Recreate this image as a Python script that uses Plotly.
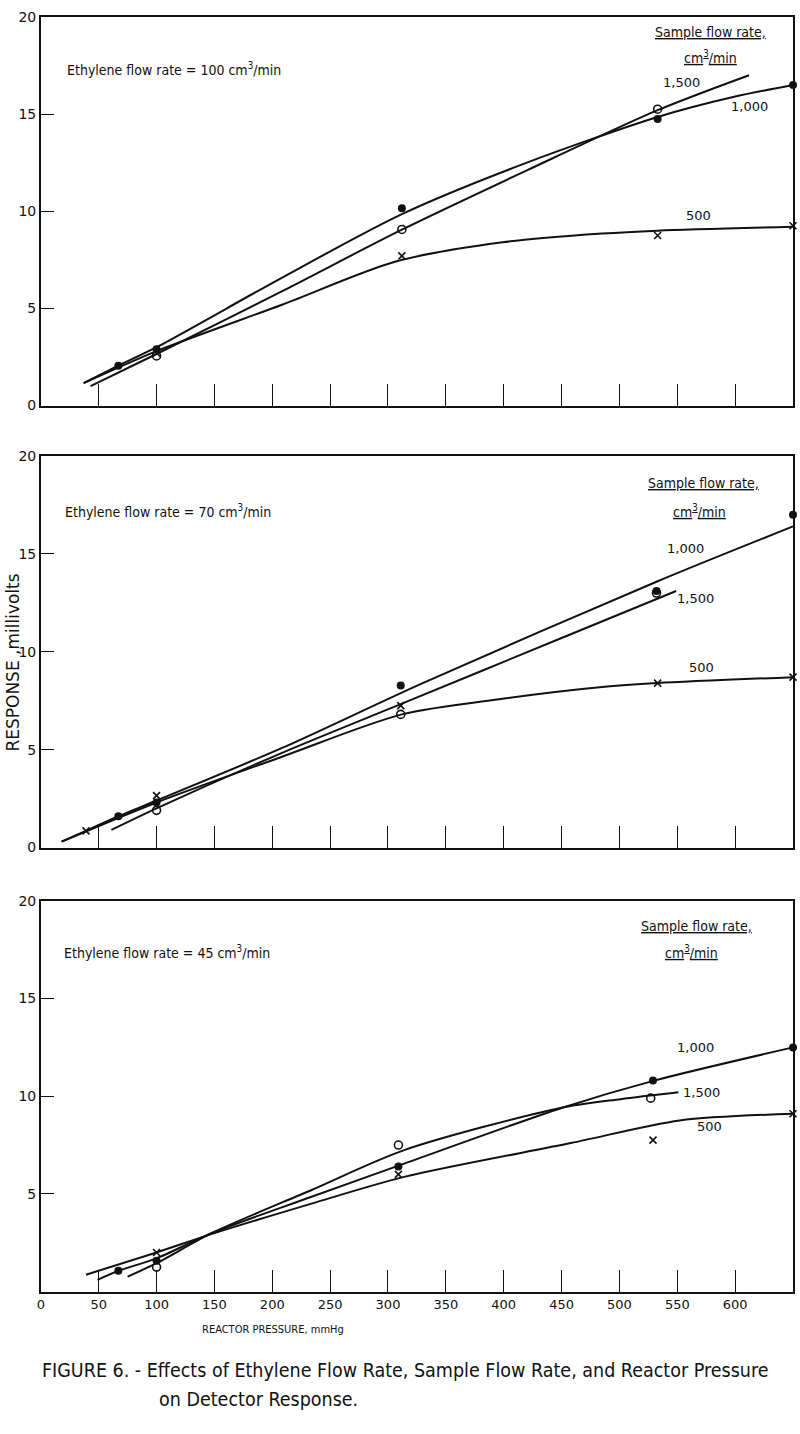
import plotly.graph_objects as go

# ---------------- data ----------------
# Panel A: ethylene flow rate = 100 cm3/min
a_pts_1000_x = [67, 100, 312, 533, 650]
a_pts_1000_y = [2.05, 2.9, 10.15, 14.75, 16.5]
a_pts_1500_x = [100, 312, 533]
a_pts_1500_y = [2.55, 9.06, 15.25]
a_pts_500_x = [100, 312, 533, 650]
a_pts_500_y = [2.7, 7.7, 8.75, 9.25]
a_fit_1000_x = [37, 67, 100, 209, 312, 420, 533, 600, 650]
a_fit_1000_y = [1.15, 2.05, 3.0, 6.6, 9.85, 12.5, 14.85, 15.9, 16.5]
a_fit_1500_x = [43, 100, 209, 312, 420, 533, 612]
a_fit_1500_y = [1.0, 2.65, 5.9, 9.05, 12.1, 15.2, 17.0]
a_fit_500_x = [37, 100, 209, 306, 399, 485, 533, 650]
a_fit_500_y = [1.15, 2.8, 5.2, 7.4, 8.4, 8.85, 9.0, 9.2]

# Panel B: ethylene flow rate = 70 cm3/min
b_pts_1000_x = [67, 100, 311, 532, 650]
b_pts_1000_y = [1.6, 2.3, 8.28, 13.1, 17.0]
b_pts_1500_x = [100, 311, 532]
b_pts_1500_y = [1.9, 6.8, 13.0]
b_pts_500_x = [39, 100, 311, 533, 650]
b_pts_500_y = [0.85, 2.65, 7.25, 8.4, 8.7]
b_fit_1000_x = [18, 39, 67, 100, 209, 330, 533, 650]
b_fit_1000_y = [0.3, 0.85, 1.6, 2.4, 5.1, 8.4, 13.6, 16.4]
b_fit_1500_x = [61, 100, 209, 312, 450, 549]
b_fit_1500_y = [0.9, 2.0, 4.85, 7.35, 10.7, 13.1]
b_fit_500_x = [18, 100, 209, 312, 399, 485, 533, 650]
b_fit_500_y = [0.3, 2.3, 4.65, 6.8, 7.6, 8.2, 8.4, 8.7]

# Panel C: ethylene flow rate = 45 cm3/min
c_pts_1000_x = [67, 100, 309, 529, 650]
c_pts_1000_y = [1.06, 1.57, 6.4, 10.8, 12.5]
c_pts_1500_x = [100, 309, 527]
c_pts_1500_y = [1.25, 7.5, 9.9]
c_pts_500_x = [100, 309, 529, 650]
c_pts_500_y = [2.0, 6.0, 7.75, 9.1]
c_fit_1000_x = [49, 67, 100, 148, 234, 314, 450, 530, 650]
c_fit_1000_y = [0.6, 1.06, 1.7, 3.0, 4.85, 6.55, 9.4, 10.8, 12.5]
c_fit_1500_x = [75, 100, 148, 234, 314, 449, 501, 551]
c_fit_1500_y = [0.76, 1.45, 3.0, 5.2, 7.24, 9.4, 9.85, 10.2]
c_fit_500_x = [39, 100, 148, 234, 314, 458, 552, 650]
c_fit_500_y = [0.86, 2.0, 2.95, 4.5, 5.87, 7.6, 8.76, 9.1]

ethylene_rates = ["100", "70", "45"]
x_tick_vals = [0, 50, 100, 150, 200, 250, 300, 350, 400, 450, 500, 550, 600, 650]
y_tick_vals = [0, 5, 10, 15, 20]

panels = [
    dict(pts={"1000": (a_pts_1000_x, a_pts_1000_y), "1500": (a_pts_1500_x, a_pts_1500_y), "500": (a_pts_500_x, a_pts_500_y)},
         fit={"1000": (a_fit_1000_x, a_fit_1000_y), "1500": (a_fit_1500_x, a_fit_1500_y), "500": (a_fit_500_x, a_fit_500_y)}),
    dict(pts={"1000": (b_pts_1000_x, b_pts_1000_y), "1500": (b_pts_1500_x, b_pts_1500_y), "500": (b_pts_500_x, b_pts_500_y)},
         fit={"1000": (b_fit_1000_x, b_fit_1000_y), "1500": (b_fit_1500_x, b_fit_1500_y), "500": (b_fit_500_x, b_fit_500_y)}),
    dict(pts={"1000": (c_pts_1000_x, c_pts_1000_y), "1500": (c_pts_1500_x, c_pts_1500_y), "500": (c_pts_500_x, c_pts_500_y)},
         fit={"1000": (c_fit_1000_x, c_fit_1000_y), "1500": (c_fit_1500_x, c_fit_1500_y), "500": (c_fit_500_x, c_fit_500_y)}),
]

# label placement (data coords per panel): (x, y)
label_pos = [
    {"eth": (21, 17.3), "sfr": (579, 19.2), "cm": (579, 17.95), "1,500": (554, 16.6), "1,000": (612, 15.4), "500": (568, 9.77)},
    {"eth": (19, 17.2), "sfr": (573, 18.6), "cm": (569, 17.2), "1,000": (557, 15.25), "1,500": (566, 12.7), "500": (571, 9.2)},
    {"eth": (18, 17.4), "sfr": (567, 18.7), "cm": (562, 17.4), "1,000": (566, 12.5), "1,500": (571, 10.2), "500": (578, 8.45)},
]

# ---------------- styling ----------------
INK = "#111111"
NARROW = "DejaVu Sans Condensed, Liberation Sans, sans-serif"
PLAIN = "DejaVu Sans, sans-serif"

marker_style = {
    "1000": dict(symbol="circle", size=8, color=INK, line=dict(width=0)),
    "1500": dict(symbol="circle-open", size=8, color=INK, line=dict(width=1.6, color=INK)),
    "500": dict(symbol="x-thin-open", size=7, color=INK, line=dict(width=1.6, color=INK)),
}

x_domain = [37 / 800, 793 / 800]
y_domains = [
    [1 - 402 / 1434, 1 - 9 / 1434],
    [1 - 849 / 1434, 1 - 453 / 1434],
    [1 - 1298 / 1434, 1 - 903 / 1434],
]

fig = go.Figure()
layout = dict(
    width=800, height=1434, autosize=False,
    margin=dict(l=0, r=0, t=0, b=0),
    paper_bgcolor="white", plot_bgcolor="white",
    showlegend=False,
    font=dict(family=PLAIN, color=INK),
)
annotations = []

for i, p in enumerate(panels):
    n = "" if i == 0 else str(i + 1)
    xa, ya = "x" + n, "y" + n
    for key in ["1000", "1500", "500"]:
        fx, fy = p["fit"][key]
        fig.add_trace(go.Scatter(x=fx, y=fy, mode="lines", xaxis=xa, yaxis=ya,
                                 line=dict(color=INK, width=2, shape="spline", smoothing=0.8),
                                 hoverinfo="skip"))
    for key in ["1000", "1500", "500"]:
        px_, py_ = p["pts"][key]
        fig.add_trace(go.Scatter(x=px_, y=py_, mode="markers", xaxis=xa, yaxis=ya,
                                 marker=marker_style[key], cliponaxis=False))
    last = i == 2
    layout["xaxis" + n] = dict(
        domain=x_domain, anchor=ya, range=[0, 650],
        tickvals=x_tick_vals, ticktext=[str(v) for v in x_tick_vals],
        showticklabels=last, ticks="inside", ticklen=22, tickwidth=1.2, tickcolor=INK,
        showline=True, linewidth=2, linecolor=INK, mirror=True,
        showgrid=False, zeroline=False,
        tickfont=dict(family=PLAIN, size=13, color=INK),
    )
    yv = y_tick_vals if not last else y_tick_vals[1:]
    layout["yaxis" + n] = dict(
        domain=y_domains[i], anchor=xa, range=[0, 20],
        tickvals=yv, ticktext=[str(v) for v in yv],
        ticks="inside", ticklen=13, tickwidth=1.2, tickcolor=INK,
        showline=True, linewidth=1.5, linecolor=INK, mirror=True,
        showgrid=False, zeroline=False,
        tickfont=dict(family=PLAIN, size=14, color=INK),
    )
    lp = label_pos[i]
    annotations.append(dict(xref=xa, yref=ya, x=lp["eth"][0], y=lp["eth"][1], xanchor="left", yanchor="middle",
                            text=f"Ethylene flow rate = {ethylene_rates[i]} cm<sup>3</sup>/min", showarrow=False,
                            font=dict(family=NARROW, size=14, color=INK)))
    annotations.append(dict(xref=xa, yref=ya, x=lp["sfr"][0], y=lp["sfr"][1], xanchor="center", yanchor="middle",
                            text="<u>Sample flow rate,</u>", showarrow=False,
                            font=dict(family=NARROW, size=14, color=INK)))
    annotations.append(dict(xref=xa, yref=ya, x=lp["cm"][0], y=lp["cm"][1], xanchor="center", yanchor="middle",
                            text="<u>cm<sup>3</sup>/min</u>", showarrow=False,
                            font=dict(family=NARROW, size=14, color=INK)))
    for lab in ["1,000", "1,500", "500"]:
        annotations.append(dict(xref=xa, yref=ya, x=lp[lab][0], y=lp[lab][1], xanchor="center", yanchor="middle",
                                text=lab, showarrow=False, font=dict(family=PLAIN, size=13, color=INK)))

annotations.append(dict(xref="paper", yref="paper", x=9 / 800, y=1 - 662 / 1434, textangle=-90,
                        xanchor="center", yanchor="middle", text="RESPONSE ,millivolts", showarrow=False,
                        font=dict(family=PLAIN, size=17, color=INK)))
annotations.append(dict(xref="paper", yref="paper", x=270 / 800, y=1 - 1336 / 1434,
                        xanchor="center", yanchor="middle", text="REACTOR PRESSURE, mmHg", showarrow=False,
                        font=dict(family=NARROW, size=11, color=INK)))
annotations.append(dict(xref="paper", yref="paper", x=36 / 800, y=1 - 1378 / 1434,
                        xanchor="left", yanchor="middle",
                        text="FIGURE 6. - Effects of Ethylene Flow Rate, Sample Flow Rate, and Reactor Pressure",
                        showarrow=False, font=dict(family=NARROW, size=19.5, color=INK)))
annotations.append(dict(xref="paper", yref="paper", x=154 / 800, y=1 - 1407 / 1434,
                        xanchor="left", yanchor="middle", text="on Detector Response.",
                        showarrow=False, font=dict(family=NARROW, size=19.5, color=INK)))

layout["annotations"] = annotations
fig.update_layout(**layout)
fig.write_html("out.html")
